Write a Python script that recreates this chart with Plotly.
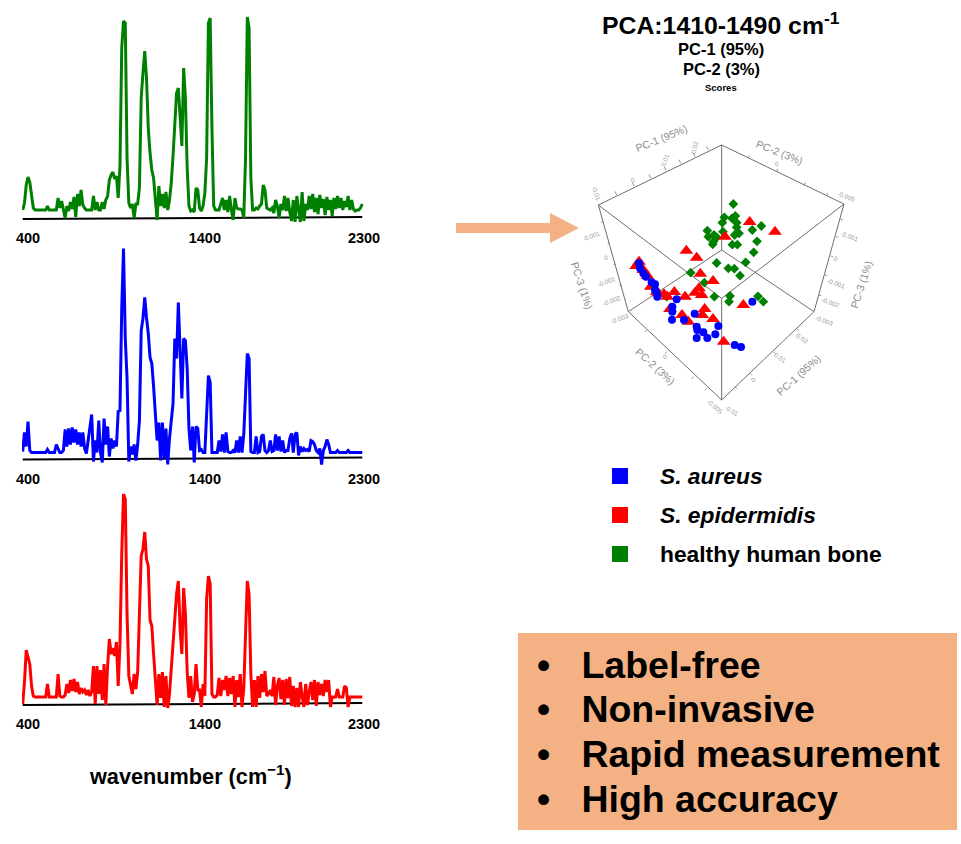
import plotly.graph_objects as go

W, H = 961, 844
def px(v): return v / W
def py(v): return 1 - v / H

# ---------- spectra: wavenumber grid and intensities ----------
wavenumber = list(range(370, 2300, 10))
green_spectrum = [
    8,15,33,41,36,20,10,8,8,8,
    8,8,8,8,12,8,8,8,8,8,
    20,10,17,8,0,12,7,16,9,21,
    1,24,12,28,13,10,8,8,8,8,
    22,8,16,8,8,16,9,18,22,38,
    43,46,39,42,20,52,170,197,195,60,
    15,10,14,0,14,14,30,120,145,167,
    140,90,65,48,40,20,-2,32,12,24,
    10,26,8,18,35,62,100,125,130,100,
    72,150,120,50,12,7,8,6,30,28,
    10,7,12,25,60,195,200,90,12,8,
    8,8,14,20,8,18,6,22,8,-2,
    20,10,9,9,8,0,60,201,190,40,
    8,8,10,9,12,14,33,28,10,9,
    8,10,5,18,12,0,14,8,22,7,
    20,6,-3,18,-4,22,9,-4,26,-3,
    14,8,22,9,24,6,20,4,23,10,
    19,3,21,8,18,2,20,9,22,10,
    20,8,17,11,22,8,18,9,7,8,
    8,10,14]
blue_spectrum = [
    7,26,12,37,8,6,6,6,6,6,
    6,6,6,6,9,6,6,6,6,14,
    10,6,6,8,29,12,30,14,31,16,
    29,14,26,12,26,10,5,18,26,44,
    -3,18,6,38,6,-4,40,14,32,2,
    20,10,18,12,47,48,150,210,120,80,
    -3,12,4,14,-2,14,38,128,140,161,
    141,125,101,95,72,38,18,36,-2,36,
    0,30,-6,20,40,55,120,100,156,100,
    60,120,118,90,30,8,32,-4,32,30,
    8,9,6,6,50,83,76,6,6,6,
    6,18,7,24,6,26,7,6,6,8,
    6,18,6,22,6,24,60,105,100,7,
    6,6,22,6,7,22,24,8,6,8,
    18,7,8,24,8,22,7,18,6,8,
    8,20,25,6,24,26,3,12,7,10,
    8,9,7,18,17,14,8,6,10,-6,
    8,12,19,14,6,6,6,6,8,6,
    6,6,6,6,8,6,6,6,6,6,
    6,6,6]
red_spectrum = [
    0,22,54,46,40,18,8,7,7,7,
    7,7,7,7,20,7,7,7,7,7,
    30,8,7,7,9,20,11,24,13,25,
    12,22,10,16,12,14,9,14,8,12,
    38,0,38,10,34,4,40,-1,38,65,
    50,56,48,62,18,60,150,210,205,90,
    28,18,10,30,15,32,100,148,155,172,
    145,138,84,78,50,28,-1,30,6,32,
    -3,28,-4,10,35,60,85,110,123,75,
    50,116,90,32,6,28,2,10,40,14,
    14,-3,20,8,105,128,120,10,7,7,
    9,26,8,24,14,28,8,26,10,28,
    -3,24,7,30,-3,15,70,123,110,30,
    -3,24,-3,28,6,30,12,33,8,10,
    14,8,27,-1,18,26,5,24,-1,25,
    6,27,-2,18,-3,16,-3,22,8,-3,
    20,-1,12,22,4,24,-2,22,9,20,
    8,24,12,24,-3,7,7,7,15,7,
    7,7,18,16,-3,7,7,7,7,7,
    7,7,7]
spectrum_ticks = [400, 1400, 2300]
baseline_x = [370, 2290]
baseline_y = [-1, 1]

# ---------- PCA score projection, in the drawing units of the cube panel ----------
healthy_x = [520,493,516,526,487,530,530,489,537,524,442,445,462,470,460,458,517,532,577,604,591,581,557,470,505,523,540,392,433,320,463,510,507,594,610]
healthy_y = [282,322,325,318,338,338,352,365,370,375,362,380,375,382,395,403,404,404,360,348,394,427,457,459,475,476,497,488,518,560,560,558,575,559,575]
epidermidis_x = [569,645,495,379,410,421,459,343,417,405,425,375,312,322,550,434,427,459,330,366,385,491,237,228,250,262,272,290,295]
epidermidis_y = [336,365,380,422,443,491,513,546,535,548,555,560,553,560,585,597,615,627,597,615,635,695,455,468,480,497,530,545,550]
aureus_x = [237,240,250,258,275,285,285,290,292,350,337,337,336,372,404,475,410,412,430,442,466,410,524,543,577]
aureus_y = [460,475,490,500,517,523,540,548,560,568,590,605,629,630,611,648,650,660,667,684,673,684,705,711,575]

frame_x = [115,485,852,762,485,205,115,None,115,485,852,None,205,485,762,None,485,485,None,485,485]
frame_y = [285,105,282,605,870,605,285,None,285,565,282,None,605,420,605,None,105,420,None,565,870]

tick_start_x = [170,222,272,318,362,405,445, 565,650,733,800, 130,150,168,185, 842,828,812,795,777, 260,320,400,440, 710,640,570,525]
tick_start_y = [255,228,204,182,160,140,120, 145,186,226,258, 335,400,462,525, 328,380,438,495,555, 660,725,800,835, 655,725,790,830]
tick_end_x   = [165,217,267,313,357,400,440, 568,653,736,803, 123,143,161,178, 849,835,819,802,784, 255,315,395,435, 716,646,576,531]
tick_end_y   = [244,217,193,171,149,129,109, 136,177,217,249, 337,402,464,527, 330,382,440,497,557, 666,731,806,841, 661,731,796,836]

# ---------- text ----------
title_main = "PCA:1410-1490 cm<sup>-1</sup>"
title_lines = ["PC-1 (95%)", "PC-2 (3%)"]
title_small = "Scores"
xlabel = "wavenumber (cm<sup>−1</sup>)"
legend_names = ["<i>S. aureus</i>", "<i>S. epidermidis</i>", "healthy human bone"]
legend_colors = ["#0000FF", "#FF0000", "#008000"]
bullets = ["Label-free", "Non-invasive", "Rapid measurement", "High accuracy"]
PEACH = "#F4B183"
FONT = "Liberation Sans"
GREY = "#8c8c8c"

fig = go.Figure()

# spectra panels: (colour, values, axis suffix, baseline pixel, top pixel, bottom pixel)
panels = [
    ("#008000", green_spectrum, "", 218, 8, 227),
    ("#0000FF", blue_spectrum, "2", 458.5, 240, 468),
    ("#FF0000", red_spectrum, "3", 704, 488, 713),
]
layout_axes = {}
for color, values, suf, base, top, bottom in panels:
    fig.add_trace(go.Scatter(x=baseline_x, y=baseline_y, mode="lines",
                             line=dict(color="#000000", width=2),
                             xaxis="x" + suf, yaxis="y" + suf, showlegend=False, hoverinfo="skip"))
    fig.add_trace(go.Scatter(x=wavenumber, y=values, mode="lines",
                             line=dict(color=color, width=3),
                             xaxis="x" + suf, yaxis="y" + suf, showlegend=False))
    layout_axes["xaxis" + suf] = dict(
        domain=[px(22), px(365.8)], range=[366, 2310], anchor="y" + suf, automargin=False,
        tickmode="array", tickvals=spectrum_ticks, ticks="", showgrid=False, zeroline=False,
        showline=False, ticklabelstandoff=0,
        tickfont=dict(family=FONT, size=14.5, color="#000000", weight="bold"))
    layout_axes["yaxis" + suf] = dict(
        domain=[py(bottom), py(top)], range=[base - bottom, base - top], anchor="x" + suf,
        visible=False, fixedrange=True, automargin=False)

# cube panel
CA = dict(xaxis="x4", yaxis="y4", showlegend=False)
fig.add_trace(go.Scatter(x=frame_x, y=frame_y, mode="lines",
                         line=dict(color="#6e6e6e", width=1), hoverinfo="skip", **CA))
tx, ty = [], []
for a, b, c, d in zip(tick_start_x, tick_start_y, tick_end_x, tick_end_y):
    tx += [a, c, None]; ty += [b, d, None]
fig.add_trace(go.Scatter(x=tx, y=ty, mode="lines",
                         line=dict(color="#7a7a7a", width=0.8), hoverinfo="skip", **CA))
fig.add_trace(go.Scatter(x=healthy_x, y=healthy_y, mode="markers", name="healthy human bone",
                         marker=dict(symbol="diamond", size=7.5, color="#008000"), **CA))
fig.add_trace(go.Scatter(x=epidermidis_x, y=epidermidis_y, mode="markers", name="S. epidermidis",
                         marker=dict(symbol="triangle-up", size=12, color="#FF0000"), **CA))
fig.add_trace(go.Scatter(x=aureus_x, y=aureus_y, mode="markers", name="S. aureus",
                         marker=dict(symbol="circle", size=8, color="#0000FF"), **CA))
layout_axes["xaxis4"] = dict(domain=[px(560), px(890)], range=[0, 990], anchor="y4", visible=False, automargin=False)
layout_axes["yaxis4"] = dict(domain=[py(420), py(110)], range=[930, 0], anchor="x4", visible=False, automargin=False)

ann = []
def T(x, y, text, size, color="#000000", bold=True, anchor="center", angle=0, ref="paper"):
    f = dict(family=FONT, size=size, color=color)
    if bold:
        f["weight"] = "bold"
    if ref == "paper":
        xv, yv, xr, yr = px(x), py(y), "paper", "paper"
    else:
        xv, yv, xr, yr = x, y, "x4", "y4"
    ann.append(dict(x=xv, y=yv, xref=xr, yref=yr, text=text, showarrow=False, font=f,
                    xanchor=anchor, yanchor="middle", textangle=angle))

T(721, 23, title_main, 24.8)
T(721, 49, title_lines[0], 16.5)
T(721, 69, title_lines[1], 16.5)
T(721, 88, title_small, 9.5)
T(190, 775, xlabel, 21.7)

# cube axis labels
T(305, 85, "PC-1 (95%)", 10.5, GREY, False, angle=-22, ref="c")
T(657, 127, "PC-2 (3%)", 10.5, GREY, False, angle=22, ref="c")
T(66, 525, "PC-3 (1%)", 10.5, GREY, False, angle=72, ref="c")
T(903, 525, "PC-3 (1%)", 10.5, GREY, False, angle=-72, ref="c")
T(285, 768, "PC-2 (3%)", 10.5, GREY, False, angle=42, ref="c")
T(715, 795, "PC-1 (95%)", 10.5, GREY, False, angle=-42, ref="c")
for (x, y, s, a) in [(108, 248, "-0.01", 70), (220, 210, "0", -30), (315, 152, "0.01", -70), (403, 112, "0.02", -80),
                     (652, 162, "0", -20), (860, 260, "-0.005", 22),
                     (98, 378, "0.001", -20), (138, 442, "0", -20), (140, 515, "-0.001", -20),
                     (155, 570, "-0.002", -20), (178, 625, "-0.003", -20),
                     (870, 381, "0.001", 20), (828, 444, "0", 20), (830, 519, "-0.001", 20), (812, 578, "-0.002", 20),
                     (792, 630, "-0.003", 20),
                     (315, 740, "0", -45), (465, 888, "-0.005", 42), (515, 902, "-0.01", 30), (580, 808, "0", -45),
                     (660, 742, "0.01", 35), (728, 684, "0.02", 35)]:
    T(x, y, s, 6.5, "#a0a0a0", False, angle=a, ref="c")

# legend
shapes = []
for i, (name, col) in enumerate(zip(legend_names, legend_colors)):
    cy = 476 + i * 39
    shapes.append(dict(type="rect", xref="paper", yref="paper", x0=px(612), x1=px(628), y0=py(cy + 8), y1=py(cy - 8),
                       fillcolor=col, line=dict(width=0)))
    T(658, cy, name, 22.8, anchor="left")

# arrow
shapes.append(dict(type="path", xref="paper", yref="paper", fillcolor=PEACH, line=dict(width=0),
                   path=f"M {px(456)} {py(223)} L {px(550)} {py(223)} L {px(550)} {py(213)} L {px(579)} {py(228)} "
                        f"L {px(550)} {py(243)} L {px(550)} {py(233)} L {px(456)} {py(233)} Z"))
# bullet box
shapes.append(dict(type="rect", xref="paper", yref="paper", x0=px(518), x1=px(957), y0=py(830), y1=py(633),
                   fillcolor=PEACH, line=dict(width=0), layer="below"))
for i, b in enumerate(bullets):
    cy = [665, 709, 754, 799][i]
    T(534.5, cy, "•\u00a0\u00a0\u00a0" + b, 37.5, anchor="left")

fig.update_layout(width=W, height=H, margin=dict(l=0, r=0, t=0, b=0), autosize=False,
                  paper_bgcolor="#ffffff", plot_bgcolor="rgba(0,0,0,0)",
                  showlegend=False, annotations=ann, shapes=shapes, **layout_axes)
fig.write_html("out.html", config={"displayModeBar": False},
               post_script="document.body.style.margin='0';document.body.style.overflow='hidden';")
